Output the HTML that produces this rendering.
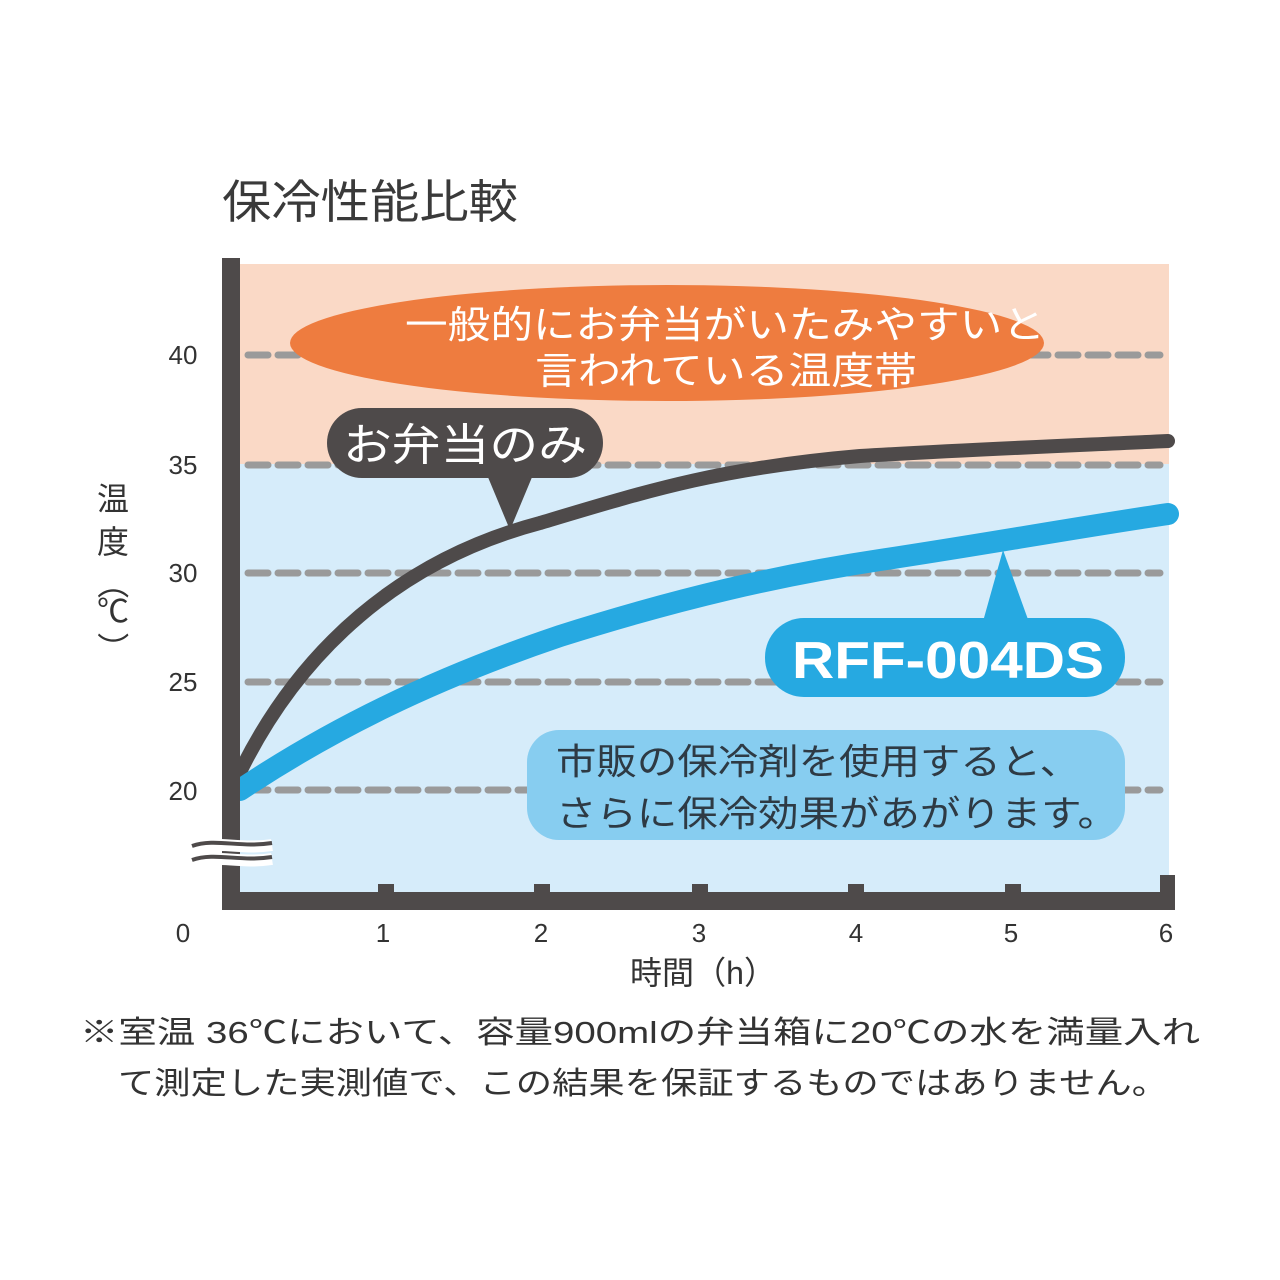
<!DOCTYPE html>
<html><head><meta charset="utf-8"><style>
body{margin:0;background:#fff;}
svg{display:block;}
text{font-family:"Liberation Sans","Noto Sans CJK JP",sans-serif;}
</style></head><body>
<svg width="1280" height="1280" viewBox="0 0 1280 1280" xmlns="http://www.w3.org/2000/svg">
<rect width="1280" height="1280" fill="#fff"/>
<text x="222" y="218" font-size="46" fill="#3a3a3a" textLength="296" lengthAdjust="spacingAndGlyphs">保冷性能比較</text>
<rect x="240" y="264" width="929" height="200" fill="#fad9c6"/>
<rect x="240" y="464" width="929" height="430" fill="#d6ecfa"/>
<g stroke="#9a9a9a" stroke-width="7" stroke-dasharray="20 10" stroke-linecap="round">
<line x1="248" y1="355" x2="1160" y2="355"/>
<line x1="248" y1="465" x2="1160" y2="465"/>
<line x1="248" y1="573" x2="1160" y2="573"/>
<line x1="248" y1="682" x2="1160" y2="682"/>
<line x1="248" y1="790" x2="1160" y2="790"/>
</g>
<ellipse cx="667" cy="343" rx="377" ry="58" fill="#ee7c3f"/>
<text x="405" y="338" font-size="38" fill="#fff" textLength="640" lengthAdjust="spacingAndGlyphs">一般的にお弁当がいたみやすいと</text>
<text x="535" y="384" font-size="38" fill="#fff" textLength="382" lengthAdjust="spacingAndGlyphs">言われている温度帯</text>
<rect x="527" y="730" width="598" height="110" rx="32" fill="#87cdf0"/>
<text x="556" y="774" font-size="36" fill="#2e3a44" textLength="524" lengthAdjust="spacingAndGlyphs">市販の保冷剤を使用すると、</text>
<text x="556" y="826" font-size="36" fill="#2e3a44" textLength="562" lengthAdjust="spacingAndGlyphs">さらに保冷効果があがります。</text>
<path d="M240,772 C300,650 400,560 540,523 C650,490 720,468 860,456 C960,450 1060,446 1168,441" fill="none" stroke="#4e4a4a" stroke-width="14" stroke-linecap="round"/>
<path d="M240,790 C330,730 430,680 560,636 C680,598 780,575 880,560 C980,545 1080,527 1168,514" fill="none" stroke="#26a9e1" stroke-width="22" stroke-linecap="round"/>
<rect x="327" y="408" width="276" height="70" rx="35" fill="#4e4a4a"/>
<path d="M485,470 L510,530 L535,470 Z" fill="#4e4a4a"/>
<text x="343" y="460" font-size="44" fill="#fff" textLength="244" lengthAdjust="spacingAndGlyphs">お弁当のみ</text>
<rect x="765" y="618" width="360" height="79" rx="39" fill="#26a9e1"/>
<path d="M982,625 L1003,550 L1030,625 Z" fill="#26a9e1"/>
<text x="792" y="678" font-size="52" font-weight="bold" fill="#fff" textLength="312" lengthAdjust="spacingAndGlyphs">RFF-004DS</text>
<rect x="222" y="258" width="18" height="652" fill="#4e4a4a"/>
<rect x="222" y="892" width="953" height="18" fill="#4e4a4a"/>
<rect x="1160" y="875" width="15" height="35" fill="#4e4a4a"/>
<g fill="#4e4a4a">
<rect x="378" y="884" width="16" height="10"/><rect x="534" y="884" width="16" height="10"/>
<rect x="692" y="884" width="16" height="10"/><rect x="848" y="884" width="16" height="10"/>
<rect x="1005" y="884" width="16" height="10"/>
</g>
<path d="M192,848 C215,840 240,850 272,845 M192,862 C215,854 240,864 272,859" stroke="#fff" stroke-width="12" fill="none"/>
<path d="M192,846 C215,838 240,848 272,843 M192,860 C215,852 240,862 272,857" stroke="#4e4a4a" stroke-width="4" fill="none"/>
<g font-size="26" fill="#333" text-anchor="middle">
<text x="183" y="364">40</text><text x="183" y="474">35</text><text x="183" y="582">30</text>
<text x="183" y="691">25</text><text x="183" y="800">20</text>
<text x="183" y="942">0</text><text x="383" y="942">1</text><text x="541" y="942">2</text>
<text x="699" y="942">3</text><text x="856" y="942">4</text><text x="1011" y="942">5</text><text x="1166" y="942">6</text>
</g>
<g font-size="32" fill="#333" text-anchor="middle">
<text x="113" y="510">温</text><text x="113" y="553">度</text>
<text x="113" y="595" transform="rotate(90 113 583)">（</text>
<text x="113" y="622">℃</text>
<text x="113" y="660" transform="rotate(90 113 648)">）</text>
</g>
<text x="630" y="984" font-size="32" fill="#333" textLength="146" lengthAdjust="spacingAndGlyphs">時間（h）</text>
<text x="80" y="1043" font-size="31" fill="#333" textLength="1120" lengthAdjust="spacingAndGlyphs">※室温 36℃において、容量900mlの弁当箱に20℃の水を満量入れ</text>
<text x="118" y="1094" font-size="31" fill="#333" textLength="1050" lengthAdjust="spacingAndGlyphs">て測定した実測値で、この結果を保証するものではありません。</text>
</svg>
</body></html>
